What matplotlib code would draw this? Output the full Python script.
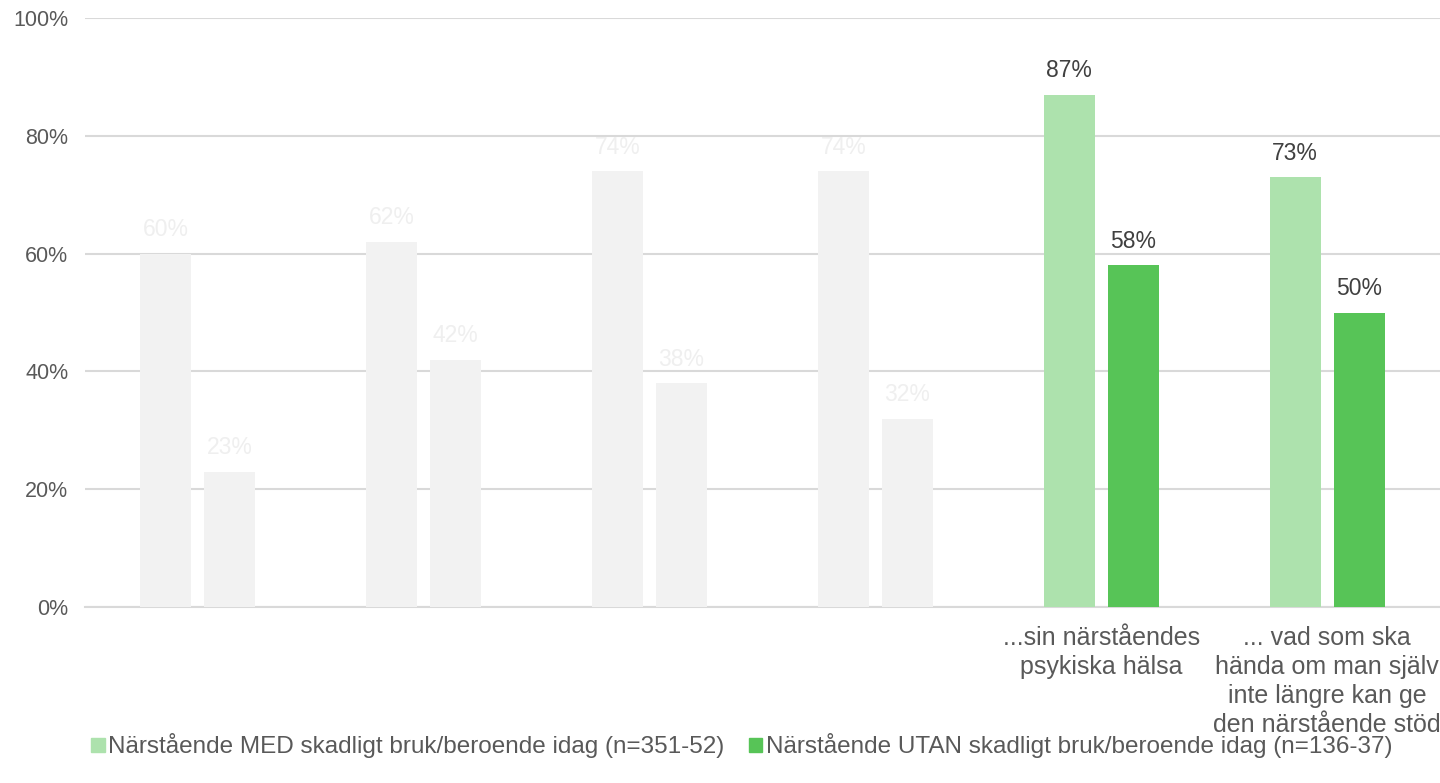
import matplotlib
matplotlib.use("Agg")
import matplotlib.pyplot as plt
from matplotlib.patches import Patch
import numpy as np

plt.rcParams['font.family'] = ['Liberation Sans', 'DejaVu Sans']

categories = ["", "", "", "",
              "...sin närståendes\npsykiska hälsa",
              "... vad som ska\nhända om man själv\ninte längre kan ge\nden närstående stöd"]
med = [60, 62, 74, 74, 87, 73]
utan = [23, 42, 38, 32, 58, 50]
highlight = [False, False, False, False, True, True]
series_names = ["Närstående MED skadligt bruk/beroende idag (n=351-52)",
                "Närstående UTAN skadligt bruk/beroende idag (n=136-37)"]
yticks = [0, 20, 40, 60, 80, 100]

c_med = "#ade2ad"
c_utan = "#57c457"
c_gray = "#f2f2f2"
c_label = "#404040"
c_gray_label = "#efefef"
c_text = "#595959"

fig = plt.figure(figsize=(14.4, 7.83), dpi=100)
ax = fig.add_axes([85/1440, 1-607/783, 1-85/1440, (607-18)/783])

x = np.arange(len(categories))
w = 0.226
off = 0.1417
for i in range(len(categories)):
    cm = c_med if highlight[i] else c_gray
    cu = c_utan if highlight[i] else c_gray
    lc = c_label if highlight[i] else c_gray_label
    b1 = ax.bar(x[i]-off, med[i], width=w, color=cm, zorder=3)
    b2 = ax.bar(x[i]+off, utan[i], width=w, color=cu, zorder=3)
    ax.bar_label(b1, labels=[f"{med[i]}%"], padding=9, fontsize=16.5, color=lc)
    ax.bar_label(b2, labels=[f"{utan[i]}%"], padding=9, fontsize=16.5, color=lc)

ax.set_xlim(-0.5, len(categories)-0.5)
ax.set_ylim(0, 100)
ax.set_yticks(yticks)
ax.set_yticklabels([f"{t}%" for t in yticks], fontsize=15.5, color=c_text)
ax.set_xticks(x)
ax.set_xticklabels(categories, fontsize=18, color=c_text, linespacing=1.26)
ax.tick_params(axis='both', length=0)
ax.tick_params(axis='x', pad=14)
ax.tick_params(axis='y', pad=12)
ax.yaxis.grid(True, color="#d9d9d9", linewidth=1.5, zorder=0)
for s in ["top", "right", "left"]:
    ax.spines[s].set_visible(False)
ax.spines["bottom"].set_color("#d9d9d9")
ax.spines["bottom"].set_linewidth(1.5)

handles = [Patch(color=c_med), Patch(color=c_utan)]
fig.legend(handles, series_names, loc="center", bbox_to_anchor=(742/1440, 1-746/783),
           ncol=2, frameon=False, fontsize=17.5, labelcolor=c_text,
           handlelength=0.55, handleheight=0.55, handletextpad=0.15, columnspacing=1.0)

fig.savefig("out.png", dpi=100)
